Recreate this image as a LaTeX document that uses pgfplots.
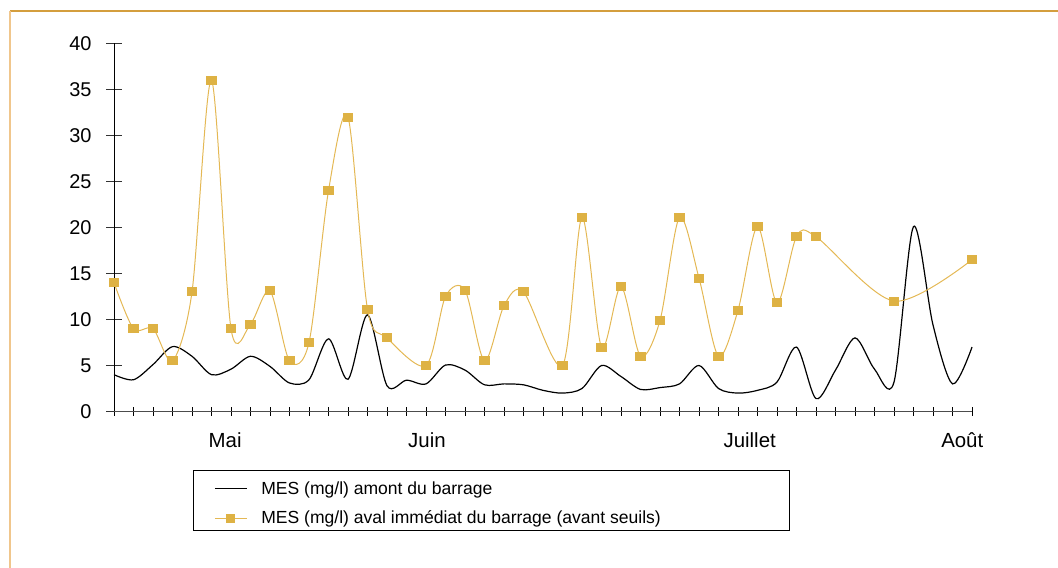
\documentclass[border=0pt]{standalone}
\usepackage{fontspec}
\setmainfont{Liberation Sans}
\usepackage{pgfplots}
\pgfplotsset{compat=1.18}
\definecolor{orangeline}{RGB}{228,184,84}
\definecolor{orangemark}{RGB}{222,178,68}
\definecolor{frametop}{RGB}{212,158,62}
\definecolor{frameleft}{RGB}{240,198,140}
\begin{document}
\begin{tikzpicture}[x=1bp,y=1bp]
\useasboundingbox (0,0) rectangle (1058,568);
\draw[frametop, line width=1.5bp] (10,557) -- (1058,557);
\draw[frameleft, line width=1.5bp] (10,557) -- (10,0);
\draw[black, line width=0.8bp] (193,98) rectangle (789,38);
\begin{axis}[
  scale only axis, width=858bp, height=368bp,
  at={(114bp,156.5bp)}, anchor=south west,
  xmin=0, xmax=44, ymin=0, ymax=40,
  axis x line=bottom, axis y line=left,
  x axis line style={-, draw=black!70, line width=1.5bp},
  y axis line style={-, draw=black, line width=1bp},
  ytick={0,5,...,40},
  xtick={5.7,16.05,32.6,43.5},
  xticklabels={Mai,Juin,Juillet,Août},
  minor xtick={0,1,...,44},
  xtick align=center, ytick align=center,
  major x tick style={draw=none},
  minor x tick style={black, line width=0.9bp},
  minor tick length=9bp,
  major tick length=16bp,
  y tick style={black!80, line width=1bp},
  yticklabel style={font=\fontsize{20}{23}\selectfont, xshift=-11bp},
  xticklabel style={font=\fontsize{20.5}{23}\selectfont, yshift=-10bp},
  /pgf/number format/assume math mode=true,
  clip=false,
  legend style={draw=none, fill=none, at={(0.1165,-0.185)}, anchor=north west,
    font=\fontsize{17.6}{21}\selectfont, row sep=11bp, column sep=12bp, inner sep=0pt,
    cells={anchor=west}},
  legend cell align=left,
]
\addplot[black, line width=1.2bp, smooth, tension=0.5, mark=none,
  legend image code/.code={\draw[black,line width=1.2bp] (0bp,0bp) -- (32bp,0bp);}]
  coordinates {
  (0,4.0) (1,3.45) (2,5.1) (3,7.05) (4,6.0) (5,4.0) (6,4.6) (7,6.0) (8,4.9)
  (9,3.1) (10,3.45) (11,7.9) (12,3.5) (13,10.5) (14,2.8) (15,3.4) (16,3.0)
  (17,5.05) (18,4.5) (19,2.9) (20,3.0) (21,2.9) (22,2.3) (23,2.0) (24,2.5)
  (25,5.0) (26,3.8) (27,2.4) (28,2.6) (29,3.0) (30,5.0) (31,2.5) (32,2.0)
  (33,2.3) (34,3.2) (35,7.0) (36,1.4) (37,4.5) (38,8.0) (39,4.6) (40,3.2)
  (41,20.1) (42,9.4) (43,3.0) (44,7.0)
  };
\addlegendentry{MES (mg/l) amont du barrage}
\addplot[orangeline, line width=1bp, smooth, tension=0.5,
  mark=square*, mark size=4bp,
  mark options={fill=orangemark, draw=orangemark, xscale=1.2},
  legend image code/.code={
    \draw[orangeline,line width=1bp] (0bp,0bp) -- (32bp,0bp);
    \fill[orangemark] (12bp,-4bp) rectangle (20bp,4bp);}]
  coordinates {
  (0,14.0) (1,9.0) (2,9.0) (3,5.5) (4,13.0) (5,36.0) (6,9.0) (7,9.5) (8,13.1)
  (9,5.5) (10,7.5) (11,24.0) (12,32.0) (13,11.1) (14,8.0) (16,5.0) (17,12.5)
  (18,13.2) (19,5.5) (20,11.5) (21,13.0) (23,5.0) (24,21.1) (25,7.0) (26,13.6)
  (27,6.0) (28,9.9) (29,21.1) (30,14.5) (31,6.0) (32,11.0) (33,20.1) (34,11.8)
  (35,19.0) (36,19.0) (40,12.0) (44,16.5)
  };
\addlegendentry{MES (mg/l) aval immédiat du barrage (avant seuils)}
\end{axis}
\end{tikzpicture}
\end{document}
